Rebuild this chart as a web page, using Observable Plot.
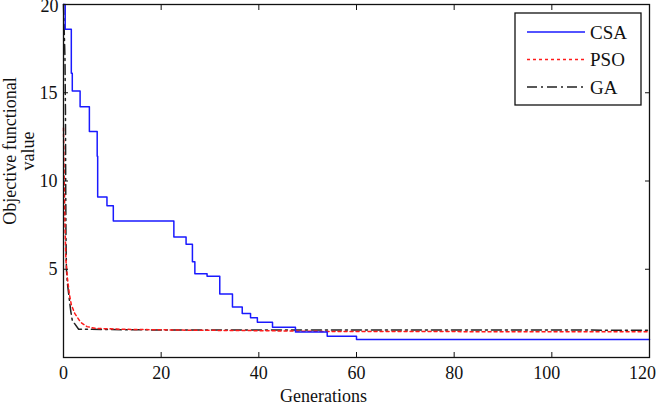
<!DOCTYPE html>
<html>
<head>
<meta charset="utf-8">
<script src="https://cdn.jsdelivr.net/npm/d3@7"></script>
<script src="https://cdn.jsdelivr.net/npm/@observablehq/plot@0.6"></script>
<style>
  html, body { margin: 0; padding: 0; background: #fff; }
  #wrap { position: relative; width: 657px; height: 406px; }
  #wrap svg { overflow: visible; }
  #wrap svg text { font-family: "Liberation Serif", "Times New Roman", serif; }
  #legend { position: absolute; left: 0; top: 0; }
</style>
</head>
<body>
<div id="wrap"></div>
<script>
// ---- data ----
const csaX = [0, 0.35, 1.6, 1.8, 3.4, 5.3, 6.9, 7.0, 8.9, 10.2, 22.6, 25.1, 26.4, 26.9, 29.4, 32.0, 34.6, 36.6, 38.3, 39.7, 42.8, 47.5, 54.0, 60.0, 120];
const csaY = [20, 18.6, 16.1, 15.1, 14.2, 12.8, 11.4, 9.1, 8.6, 7.74, 6.83, 6.42, 5.42, 4.75, 4.6, 3.6, 2.86, 2.5, 2.25, 2.0, 1.72, 1.44, 1.2, 1.02, 1.02];

const psoX = [0, 0.15, 0.3, 0.5, 0.8, 1.2, 1.6, 2.3, 3.5, 4.8, 6.5, 12, 25, 40, 55, 120];
const psoY = [13, 10, 7.5, 5.5, 4.5, 3.6, 3.0, 2.5, 2.0, 1.75, 1.65, 1.6, 1.55, 1.52, 1.47, 1.46];

const gaX = [0, 0.3, 0.4, 0.45, 0.5, 0.6, 0.8, 1.5, 1.8, 3.1, 20, 120];
const gaY = [20, 17, 14, 10, 7, 5, 4.2, 2.6, 2.1, 1.6, 1.56, 1.55];

const seriesNames = ["CSA", "PSO", "GA"];
const xTicks = [0, 20, 40, 60, 80, 100, 120];
const yTicks = [5, 10, 15, 20];

const xLabel = "Generations";
const yLabel = "Objective functional\nvalue";

// ---- build tables ----
const toRows = (xs, ys) => xs.map((x, i) => ({x, y: ys[i]}));
const csa = toRows(csaX, csaY);
const pso = toRows(psoX, psoY);
const ga = toRows(gaX, gaY);

const styles = {
  CSA: {stroke: "#1a1aff", strokeWidth: 1.5, strokeDasharray: null},
  PSO: {stroke: "#ff1a1a", strokeWidth: 1.5, strokeDasharray: "3,3"},
  GA:  {stroke: "#222222", strokeWidth: 1.5, strokeDasharray: "10,4,2,4"}
};

const font = "Liberation Serif";
const fs = 18;
const ink = "#111";

const xMain = xTicks.filter(t => t <= 80);
const yMain = yTicks.filter(t => t < 20);

const chart = Plot.plot({
  width: 657,
  height: 406,
  marginLeft: 63,
  marginRight: 8,
  marginTop: 4,
  marginBottom: 49,
  style: {fontFamily: font, fontSize: fs + "px", color: ink, background: "white", overflow: "visible"},
  x: {domain: [0, 120]},
  y: {domain: [0, 20]},
  marks: [
    Plot.line(ga, {x: "x", y: "y", stroke: styles.GA.stroke, strokeWidth: styles.GA.strokeWidth, strokeDasharray: styles.GA.strokeDasharray}),
    Plot.line(pso, {x: "x", y: "y", stroke: styles.PSO.stroke, strokeWidth: styles.PSO.strokeWidth, strokeDasharray: styles.PSO.strokeDasharray}),
    Plot.line(csa, {x: "x", y: "y", curve: "step-after", stroke: styles.CSA.stroke, strokeWidth: styles.CSA.strokeWidth}),
    Plot.frame({stroke: ink, strokeWidth: 1.3}),
    // inward ticks on all four sides
    Plot.axisX({anchor: "bottom", ticks: xTicks, tickSize: -5, tickFormat: () => "", label: null}),
    Plot.axisX({anchor: "top", ticks: xTicks, tickSize: -5, tickFormat: () => "", label: null}),
    Plot.axisY({anchor: "left", ticks: yTicks, tickSize: -5, tickFormat: () => "", label: null}),
    Plot.axisY({anchor: "right", ticks: yTicks, tickSize: -5, tickFormat: () => "", label: null}),
    // tick labels
    Plot.axisX({anchor: "bottom", ticks: xMain, tickSize: 0, tickPadding: 9, label: null, fontSize: fs, fontFamily: font}),
    Plot.axisX({anchor: "bottom", ticks: [100], tickSize: 0, tickPadding: 9, dx: -5, label: null, fontSize: fs, fontFamily: font}),
    Plot.axisX({anchor: "bottom", ticks: [120], tickSize: 0, tickPadding: 9, dx: -7, label: null, fontSize: fs, fontFamily: font}),
    Plot.axisY({anchor: "left", ticks: yMain, tickSize: 0, tickPadding: 6, label: null, fontSize: fs, fontFamily: font}),
    Plot.axisY({anchor: "left", ticks: [20], tickSize: 0, tickPadding: 5, dy: 2, label: null, fontSize: fs, fontFamily: font}),
    // axis titles
    Plot.text([xLabel], {frameAnchor: "bottom", dx: -33, dy: 39, lineAnchor: "middle", fontSize: fs, fontFamily: font, fill: ink}),
    Plot.text([yLabel], {frameAnchor: "left", textAnchor: "middle", rotate: -90, dx: -30, dy: -30, lineAnchor: "bottom", lineHeight: 0.95, fontSize: fs, fontFamily: font, fill: ink})
  ]
});

const wrap = document.getElementById("wrap");
wrap.appendChild(chart);

// ---- legend overlay ----
const leg = d3.select(wrap).append("svg")
  .attr("id", "legend")
  .attr("width", 657).attr("height", 406)
  .style("pointer-events", "none");
const box = {x: 515, y: 13, w: 126, h: 92};
leg.append("rect")
  .attr("x", box.x).attr("y", box.y).attr("width", box.w).attr("height", box.h)
  .attr("fill", "white").attr("stroke", ink).attr("stroke-width", 1.3);
seriesNames.forEach((name, i) => {
  const cy = box.y + 19 + i * 27.5;
  const s = styles[name];
  leg.append("line")
    .attr("x1", box.x + 12).attr("x2", box.x + 70)
    .attr("y1", cy).attr("y2", cy)
    .attr("stroke", s.stroke).attr("stroke-width", s.strokeWidth)
    .attr("stroke-dasharray", s.strokeDasharray);
  leg.append("text")
    .attr("x", box.x + 75).attr("y", cy).attr("dy", "0.35em")
    .attr("font-family", font).attr("font-size", 19).attr("fill", ink)
    .text(name);
});
</script>
</body>
</html>
